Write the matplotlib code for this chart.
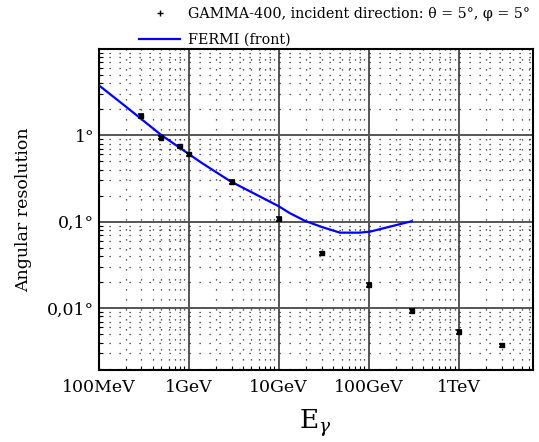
import numpy as np
import matplotlib
matplotlib.use('Agg')
import matplotlib.pyplot as plt
from matplotlib.ticker import FixedLocator, FixedFormatter, LogLocator, NullFormatter

plt.rcParams['font.family'] = ['DejaVu Serif']
plt.rcParams['mathtext.fontset'] = 'dejavuserif'

# GAMMA-400 points, energy in GeV, resolution in degrees
gamma_E = [0.3, 0.5, 0.8, 1.0, 3.0, 10.0, 30.0, 100.0, 300.0, 1000.0, 3000.0]
gamma_res = [1.68, 0.94, 0.74, 0.60, 0.29, 0.108, 0.043, 0.0185, 0.0092, 0.0053, 0.0037]

# FERMI (front) curve
fermi_E = [0.1, 0.2, 0.5, 1.4, 2.9, 10.0, 13.4, 19.7, 30.0, 48.0, 80.0, 104.0, 173.0, 277.0, 300.0]
fermi_res = [3.8, 2.15, 1.0, 0.478, 0.294, 0.151, 0.125, 0.102, 0.087, 0.0746, 0.0746, 0.0767, 0.0876, 0.099, 0.101]

xticks = [0.1, 1, 10, 100, 1000]
xticklabels = ['100MeV', '1GeV', '10GeV', '100GeV', '1TeV']
yticks = [0.01, 0.1, 1]
yticklabels = ['0,01°', '0,1°', '1°']

fig = plt.figure(figsize=(5.39, 4.42), dpi=100)
ax = fig.add_axes([0.1828, 0.1618, 0.9889 - 0.1828, 0.8898 - 0.1618])

ax.set_xscale('log')
ax.set_yscale('log')
ax.set_xlim(0.1, 6700)
ax.set_ylim(0.0019, 10)

# grid: solid major, sparse dotted minor
ax.grid(which='major', color='#555555', linestyle='-', linewidth=1.4)
ax.grid(which='minor', color='#222222', linestyle=(0, (1, 7)), linewidth=0.9)
ax.set_axisbelow(True)

fermi_line, = ax.plot(fermi_E, fermi_res, color='#0000ff', linewidth=1.6, zorder=3)
err = np.array(gamma_res) * 0.05
ax.errorbar(gamma_E, gamma_res, yerr=err, fmt='s', color='black', markersize=2.8,
            capsize=2.5, elinewidth=1, capthick=1.2, zorder=4)

ax.xaxis.set_major_locator(FixedLocator(xticks))
ax.xaxis.set_major_formatter(FixedFormatter(xticklabels))
ax.xaxis.set_minor_locator(LogLocator(base=10, subs=np.arange(2, 10), numticks=20))
ax.xaxis.set_minor_formatter(NullFormatter())
ax.yaxis.set_major_locator(FixedLocator(yticks))
ax.yaxis.set_major_formatter(FixedFormatter(yticklabels))
ax.yaxis.set_minor_locator(LogLocator(base=10, subs=np.arange(2, 10), numticks=20))
ax.yaxis.set_minor_formatter(NullFormatter())

ax.tick_params(which='both', direction='in', top=False, right=False)
ax.tick_params(which='major', length=0, labelsize=12.5)
ax.tick_params(axis='x', which='major', pad=6)
ax.tick_params(axis='y', which='major', pad=3)
ax.tick_params(which='minor', length=3, width=0.8)
for s in ax.spines.values():
    s.set_linewidth(1.5)

ax.set_ylabel('Angular resolution', fontsize=12.5, labelpad=11)
ax.set_xlabel(r'E$_\gamma$', fontsize=19, labelpad=8)

# legend above the plot
h1 = plt.Line2D([], [], linestyle='none', marker='+', color='black', markersize=4)
leg = fig.legend([h1, fermi_line],
                 ['GAMMA-400, incident direction: θ = 5°, φ = 5°', 'FERMI (front)'],
                 loc='upper left', bbox_to_anchor=(139 / 539, 1 - 7 / 442),
                 frameon=False, fontsize=10.3, handlelength=2.9, handletextpad=0.5,
                 labelspacing=0.85, borderpad=0, borderaxespad=0)

fig.savefig('out.png', dpi=100)
